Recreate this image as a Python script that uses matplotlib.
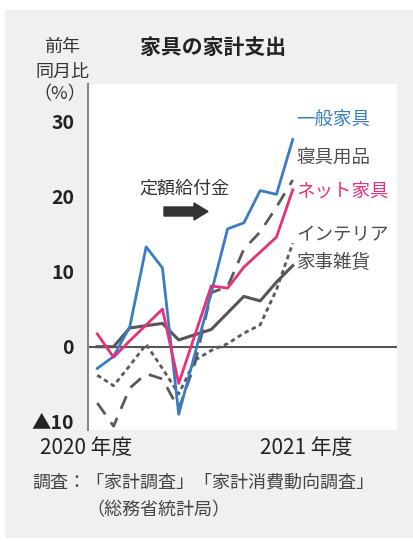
import matplotlib
matplotlib.use("Agg")
import matplotlib.pyplot as plt
from matplotlib.patches import Rectangle, FancyArrow

plt.rcParams['font.family'] = ['Noto Sans CJK JP', 'DejaVu Sans']

# 2020年4月 .. 2021年4月 (月次, 前年同月比 %)
months = list(range(13))
ippan = [-2.9, -1.3, 2.7, 13.3, 10.5, -9.0, -0.9, 7.2, 15.7, 16.5, 20.8, 20.3, 27.6]
shingu = [-7.5, -10.6, -5.5, -3.6, -4.3, -8.3, -2.2, 7.2, 8.0, 13.0, 15.3, 18.6, 22.2]
net = [1.7, -1.4, 0.8, 2.9, 5.0, -4.9, 1.6, 8.1, 7.8, 10.6, 12.6, 14.6, 20.9]
interior = [-3.8, -5.2, -2.5, 0.3, -2.9, -6.3, -1.8, -0.5, 0.4, 1.8, 2.9, 7.6, 13.8]
kaji = [0.0, 0.0, 2.5, 2.8, 3.1, 0.9, 1.6, 2.3, 4.5, 6.7, 6.1, 8.6, 10.8]

yticks = [30, 20, 10, 0, -10]
ylabels = ['30', '20', '10', '0', '▲10']

W, H = 413, 541
fig = plt.figure(figsize=(W / 100, H / 100), dpi=100)
fig.patch.set_facecolor('white')


def px(x, y):
    return x / W, 1 - y / H


# gray panel behind everything
fig.patches.append(Rectangle(px(5, 538), 408 / W, 528 / H, transform=fig.transFigure,
                             facecolor='#f0f0f0', edgecolor='none', zorder=-5))

l, t = px(88, 84)
r, b = px(397, 430)
ax = fig.add_axes([l, b, r - l, t - b])
ax.set_zorder(1)
ax.set_facecolor('white')

ax.set_xlim(-0.57, 18.4)
ax.set_ylim(-11.1, 35.0)

ax.axhline(0, color='#555555', lw=1.5, zorder=1)

ax.plot(months, interior, color='#5a5a5a', lw=2.0, ls=(0, (1.6, 1.3)), zorder=2)
ax.plot(months, shingu, color='#5a5a5a', lw=2.0, ls=(0, (5, 3.5)), zorder=2)
ax.plot(months, kaji, color='#555555', lw=2.2, zorder=3)
ax.plot(months, ippan, color='#3a7cc4', lw=2.0, zorder=4)
ax.plot(months, net, color='#e8307a', lw=2.0, zorder=5)

for s in ['top', 'right', 'bottom']:
    ax.spines[s].set_visible(False)
ax.spines['left'].set_color('#888888')
ax.spines['left'].set_linewidth(1.5)
ax.set_xticks([])
ax.set_yticks(yticks)
ax.set_yticklabels(ylabels, fontsize=14, fontweight='bold', color='#222222')
ax.tick_params(axis='y', length=0, pad=10)

# texts
fig.text(*px(213, 47), '家具の家計支出', fontsize=15, fontweight='bold', color='#222222',
         ha='center', va='center')
fig.text(*px(62, 47), '前年', fontsize=13, color='#333333', ha='center', va='center')
fig.text(*px(62, 72), '同月比', fontsize=13, color='#333333', ha='center', va='center')
fig.text(*px(60, 94), '（%）', fontsize=13, color='#333333', ha='center', va='center')

fig.text(*px(296, 120), '一般家具', fontsize=13.3, color='#3a7cc4', ha='left', va='center')
fig.text(*px(296, 158), '寝具用品', fontsize=13.3, color='#4d4d4d', ha='left', va='center')
fig.text(*px(296, 192), 'ネット家具', fontsize=13.3, color='#e8307a', ha='left', va='center')
fig.text(*px(296, 235), 'インテリア', fontsize=13.3, color='#4d4d4d', ha='left', va='center')
fig.text(*px(296, 263), '家事雑貨', fontsize=13.3, color='#4d4d4d', ha='left', va='center')

fig.text(*px(184, 189), '定額給付金', fontsize=13, color='#333333', ha='center', va='center')
fig.patches.append(FancyArrow(
    164 / W, 1 - 211.5 / H, 44 / W, 0, width=9 / H, head_width=17 / H, head_length=14 / W,
    length_includes_head=True, transform=fig.transFigure, color='#333333', zorder=5))

fig.text(*px(40, 448), '2020 年度', fontsize=15, color='#222222', ha='left', va='center')
fig.text(*px(260, 448), '2021 年度', fontsize=15, color='#222222', ha='left', va='center')
fig.text(*px(32, 482), '調査：「家計調査」「家計消費動向調査」', fontsize=13, color='#444444',
         ha='left', va='center')
fig.text(*px(86, 510), '（総務省統計局）', fontsize=13, color='#444444', ha='left', va='center')

fig.savefig('out.png', dpi=100, facecolor=fig.get_facecolor())
